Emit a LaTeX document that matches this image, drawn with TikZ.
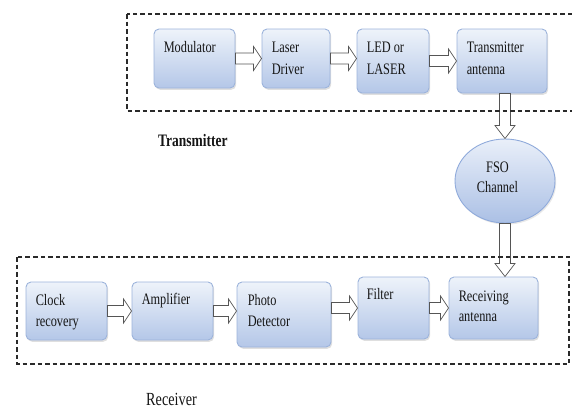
\documentclass[tikz,border=0pt]{standalone}
\usepackage{fontspec}
\setmainfont{Liberation Serif}[FakeStretch=0.77]
\usetikzlibrary{calc,shadows,shapes.geometric}

\definecolor{boxtop}{HTML}{EEF3FA}
\definecolor{boxbot}{HTML}{B4C7E8}
\definecolor{boxline}{HTML}{9CB3DB}
\definecolor{balltop}{HTML}{E9EFF9}
\definecolor{ballbot}{HTML}{ABC0E5}
\definecolor{ballline}{HTML}{8FAADB}
\definecolor{arrline}{HTML}{555555}
\definecolor{txt}{HTML}{151515}
\definecolor{dashcol}{HTML}{2A2A2A}

\tikzset{
  block/.style={draw=boxline, line width=0.9pt, rounded corners=5pt,
    top color=boxtop, bottom color=boxbot, inner sep=0pt,
    drop shadow={shadow xshift=1.2pt, shadow yshift=-1.8pt, opacity=0.25}},
  ball/.style={ellipse, draw=ballline, line width=0.9pt, inner sep=0pt,
    top color=balltop, bottom color=ballbot,
    drop shadow={shadow xshift=1.2pt, shadow yshift=-1.6pt, opacity=0.18}},
  lbl/.style={inner sep=0pt, text=txt, font=\fontsize{16}{21.5}\selectfont},
  caption/.style={inner sep=0pt, text=txt, font=\fontsize{18.5}{22}\selectfont},
  harrow/.style={draw=arrline, fill=white, line width=0.7pt, line join=miter},
  dashbox/.style={draw=dashcol, line width=1.1pt, dash pattern=on 4.5pt off 3pt}
}

% hollow block arrow pointing right, at the height of the first point
\newcommand{\hollowR}[2]{%
  \draw[harrow] let \p1=(#1), \p2=(#2) in
    (\x1,\y1+5.5pt) -- (\x2-8pt,\y1+5.5pt) -- (\x2-8pt,\y1+12pt) -- (\x2,\y1)
    -- (\x2-8pt,\y1-12pt) -- (\x2-8pt,\y1-5.5pt) -- (\x1,\y1-5.5pt) -- cycle;}
% hollow block arrow pointing down, along the x of the first point
\newcommand{\hollowD}[2]{%
  \draw[harrow] let \p1=(#1), \p2=(#2) in
    (\x1-5.5pt,\y1) -- (\x1-5.5pt,\y2+13pt) -- (\x1-10pt,\y2+13pt) -- (\x1,\y2)
    -- (\x1+10pt,\y2+13pt) -- (\x1+5.5pt,\y2+13pt) -- (\x1+5.5pt,\y1) -- cycle;}

\begin{document}
\begin{tikzpicture}[x=1pt, y=-1pt]
\useasboundingbox (0,0) rectangle (572,408);
\clip (0,0) rectangle (572,408);

% transmitter chain
\node[block, minimum width=81pt, minimum height=59pt] (mod) at (194.5,58.5) {};
\node[block, minimum width=68pt, minimum height=59pt] (ld)  at (296,58.5) {};
\node[block, minimum width=72pt, minimum height=64pt] (led) at (393,61) {};
\node[block, minimum width=90pt, minimum height=64pt] (ta)  at (502,61) {};

% channel
\node[ball, minimum width=100pt, minimum height=84pt] (fso) at (505,181) {};

% receiver chain
\node[block, minimum width=81pt, minimum height=58pt] (clk) at (66.5,311) {};
\node[block, minimum width=81pt, minimum height=58pt] (amp) at (172.5,311) {};
\node[block, minimum width=94pt, minimum height=65pt] (pd)  at (284,314.5) {};
\node[block, minimum width=71pt, minimum height=62pt] (flt) at (393.5,308) {};
\node[block, minimum width=89pt, minimum height=62pt] (ra)  at (493.5,308) {};

% block arrows
\hollowR{mod.east}{ld.west}
\hollowR{ld.east}{led.west}
\hollowR{led.east}{ta.west}
\hollowD{ta.south -| fso.center}{fso.north}
\hollowD{fso.south}{fso.south |- ra.north}
\hollowR{clk.east}{amp.west}
\hollowR{amp.east}{pd.west}
\hollowR{pd.east |- flt.west}{flt.west}
\hollowR{flt.east}{ra.west}

% dashed enclosures
\draw[dashbox] (127,14) rectangle (590,111);
\draw[dashbox] (17,257) rectangle (569,364);

% block texts
\node[lbl, anchor=base west] (mod-a) at ($(mod.north west)+(10,23.5)$) {Modulator};
\node[lbl, anchor=base west] (ld-a)  at ($(ld.north west)+(10,24)$) {Laser};
\node[lbl, anchor=base west] (ld-b)  at ($(ld.north west)+(10,46)$) {Driver};
\node[lbl, anchor=base west] (led-a) at ($(led.north west)+(10,24)$) {LED or};
\node[lbl, anchor=base west] (led-b) at ($(led.north west)+(10,46)$) {LASER};
\node[lbl, anchor=base west] (ta-a)  at ($(ta.north west)+(10,24)$) {Transmitter};
\node[lbl, anchor=base west] (ta-b)  at ($(ta.north west)+(10,46)$) {antenna};

\node[lbl, anchor=base] (fso-a) at ($(fso.center)+(-7.5,-9)$) {FSO};
\node[lbl, anchor=base] (fso-b) at ($(fso.center)+(-7.5,11)$) {Channel};

\node[lbl, anchor=base west] (clk-a) at ($(clk.north west)+(10,23.5)$) {Clock};
\node[lbl, anchor=base west] (clk-b) at ($(clk.north west)+(10,44.5)$) {recovery};
\node[lbl, anchor=base west] (amp-a) at ($(amp.north west)+(10,22.5)$) {Amplifier};
\node[lbl, anchor=base west] (pd-a)  at ($(pd.north west)+(11,23.5)$) {Photo};
\node[lbl, anchor=base west] (pd-b)  at ($(pd.north west)+(11,44.5)$) {Detector};
\node[lbl, anchor=base west] (flt-a) at ($(flt.north west)+(9,23)$) {Filter};
\node[lbl, anchor=base west] (ra-a)  at ($(ra.north west)+(10,25)$) {Receiving};
\node[lbl, anchor=base west] (ra-b)  at ($(ra.north west)+(10,45)$) {antenna};

% section captions
\node[caption, font=\fontsize{17.5}{21}\selectfont\bfseries, anchor=base west] (txlabel) at (158,146) {Transmitter};
\node[caption, anchor=base west] (rxlabel) at (146,405) {Receiver};
\end{tikzpicture}
\end{document}
